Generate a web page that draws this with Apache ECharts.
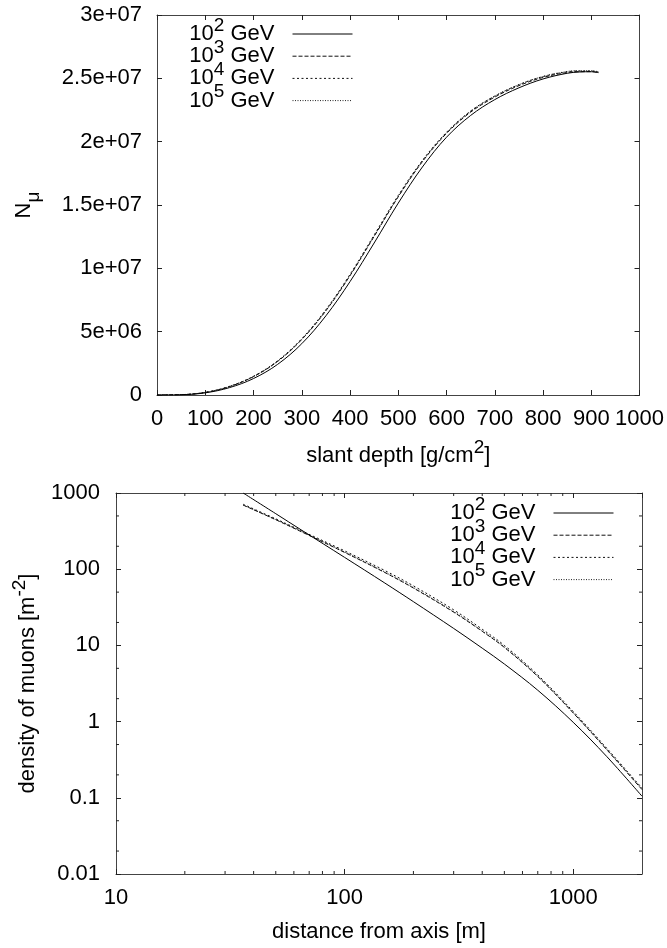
<!DOCTYPE html>
<html>
<head>
<meta charset="utf-8">
<script src="https://cdn.jsdelivr.net/npm/echarts@6/dist/echarts.min.js"></script>
<style>
  html, body { margin: 0; padding: 0; background: #fff; }
  #chart { width: 667px; height: 948px; }
</style>
</head>
<body>
<div id="chart"></div>
<script>
// Primary energies of the simulated showers
const energies = ['10^2 GeV', '10^3 GeV', '10^4 GeV', '10^5 GeV'];

// Longitudinal development: number of muons vs slant depth [g/cm^2]
const depth = [0, 50, 100, 150, 200, 250, 300, 350, 400, 450, 500, 550, 600, 650, 700, 750, 800, 850, 875, 900, 915];
const nMu_e2 = [0, 0.02e6, 0.17e6, 0.58e6, 1.30e6, 2.42e6, 4.05e6, 6.25e6, 8.95e6, 12.0e6, 15.15e6, 18.0e6, 20.35e6, 22.07e6, 23.32e6, 24.25e6, 24.95e6, 25.4e6, 25.5e6, 25.52e6, 25.45e6];
const nMu_e3 = [0, 0.025e6, 0.20e6, 0.66e6, 1.45e6, 2.65e6, 4.38e6, 6.65e6, 9.42e6, 12.52e6, 15.65e6, 18.42e6, 20.65e6, 22.33e6, 23.52e6, 24.42e6, 25.07e6, 25.46e6, 25.53e6, 25.53e6, 25.46e6];
const nMu_e4 = [0, 0.026e6, 0.21e6, 0.68e6, 1.48e6, 2.70e6, 4.45e6, 6.74e6, 9.52e6, 12.63e6, 15.76e6, 18.52e6, 20.74e6, 22.42e6, 23.6e6, 24.5e6, 25.14e6, 25.52e6, 25.58e6, 25.58e6, 25.5e6];
const nMu_e5 = [0, 0.025e6, 0.205e6, 0.67e6, 1.46e6, 2.67e6, 4.40e6, 6.68e6, 9.45e6, 12.55e6, 15.68e6, 18.46e6, 20.7e6, 22.4e6, 23.6e6, 24.5e6, 25.15e6, 25.54e6, 25.6e6, 25.6e6, 25.52e6];
const depthTicks = ['0', '100', '200', '300', '400', '500', '600', '700', '800', '900', '1000'];
const nMuTicks = ['0', '5e+06', '1e+07', '1.5e+07', '2e+07', '2.5e+07', '3e+07'];

// Lateral distribution: muon density [m^-2] vs distance from shower axis [m]
const distance = [36, 50, 65, 100, 150, 200, 300, 400, 500, 700, 1000, 1400, 2000];
const rho_e2 = [1000, 535, 324, 143, 65.8, 37.5, 16.7, 9.2, 5.7, 2.58, 0.98, 0.35, 0.105];
const rho_e3 = [695, 446, 308, 166, 90.4, 56.6, 27.3, 15.3, 9.4, 3.9, 1.3, 0.43, 0.128];
const rho_e4 = [712, 458, 318, 174, 96, 60.5, 29.3, 16.3, 10.0, 4.1, 1.36, 0.45, 0.134];
const rho_e5 = [692, 448, 311, 168, 91.5, 57.4, 27.8, 15.5, 9.55, 3.95, 1.31, 0.435, 0.13];
const distTicks = ['10', '100', '1000'];
const rhoTicks = ['0.01', '0.1', '1', '10', '100', '1000'];
const distMinor = [20, 30, 40, 50, 60, 70, 80, 90, 200, 300, 400, 500, 600, 700, 800, 900];
const rhoMinor = [0.02, 0.05, 0.2, 0.5, 2, 5, 20, 50, 200, 500];

const FONT = 'Liberation Sans, Arial, Helvetica, sans-serif';
const AXIS_COLOR = '#444';
const dashes = ['solid', [4, 2], [2, 2.5], [1, 1.5]];
const lineColors = ['#000', '#111', '#111', '#222'];

// Raised / lowered fragments: a tiny token box pinned to the top or bottom of the line
const supRich = {
  base: { fontSize: 22, lineHeight: 22, color: '#000', fontFamily: FONT },
  sup: { fontSize: 19, height: 5, lineHeight: 5, verticalAlign: 'top', color: '#000', fontFamily: FONT },
  sub: { fontSize: 19, height: 2, lineHeight: 2, verticalAlign: 'bottom', color: '#000', fontFamily: FONT }
};
const nameStyle = { fontSize: 22, color: '#000', lineHeight: 22, fontFamily: FONT, rich: supRich };
const labelBase = { fontSize: 22, color: '#000', fontFamily: FONT };

function pairs(xs, ys) { return xs.map((x, i) => [x, ys[i]]); }
function powLabel(list) {
  return v => {
    const e = Math.round(Math.log10(v));
    return Math.abs(Math.log10(v) - e) < 1e-6 ? (list.find(t => Number(t) === v) || '') : '';
  };
}

function box(extra, mirror) {
  return Object.assign({
    axisLine: { show: true, onZero: false, lineStyle: { color: AXIS_COLOR, width: 1 } },
    axisTick: { show: true, inside: true, length: 5, lineStyle: { color: '#222', width: 1 } },
    splitLine: { show: false },
    axisLabel: mirror ? { show: false } : undefined
  }, extra);
}

const grids = [
  { left: 157, right: 26, top: 15, height: 380 },
  { left: 116, right: 25, top: 493, height: 381 }
];

const xAxes = [
  box({ gridIndex: 0, type: 'value', position: 'bottom', min: 0, max: 1000, interval: 100,
        axisLabel: Object.assign({ margin: 13, formatter: v => depthTicks[Math.round(v / 100)] }, labelBase),
        name: 'slant depth [g/cm{sup|2}]', nameLocation: 'middle', nameGap: 50, nameTextStyle: nameStyle }),
  box({ gridIndex: 0, type: 'value', position: 'top', min: 0, max: 1000, interval: 100 }, true),
  box({ gridIndex: 1, type: 'log', logBase: 10, position: 'bottom', min: 10, max: 2000,
        axisLabel: Object.assign({ margin: 13, showMaxLabel: false, formatter: powLabel(distTicks) }, labelBase),
        name: 'distance from axis [m]', nameLocation: 'middle', nameGap: 47, nameTextStyle: nameStyle }),
  box({ gridIndex: 1, type: 'log', logBase: 10, position: 'top', min: 10, max: 2000 }, true)
];

const yAxes = [
  box({ gridIndex: 0, type: 'value', position: 'left', min: 0, max: 3e7, interval: 5e6,
        axisLabel: Object.assign({ margin: 15, formatter: v => nMuTicks[Math.round(v / 5e6)] }, labelBase),
        name: 'N{sub|μ}', nameLocation: 'middle', nameRotate: 90, nameGap: 122, nameTextStyle: nameStyle }),
  box({ gridIndex: 0, type: 'value', position: 'right', min: 0, max: 3e7, interval: 5e6 }, true),
  box({ gridIndex: 1, type: 'log', logBase: 10, position: 'left', min: 0.01, max: 1000,
        axisLabel: Object.assign({ margin: 16, formatter: powLabel(rhoTicks) }, labelBase),
        name: 'density of muons [m{sup|-2}]', nameLocation: 'middle', nameRotate: 90, nameGap: 77, nameTextStyle: nameStyle }),
  box({ gridIndex: 1, type: 'log', logBase: 10, position: 'right', min: 0.01, max: 1000 }, true)
];

function curve(name, i, data, xi, yi) {
  return {
    type: 'line', name, data, xAxisIndex: xi, yAxisIndex: yi,
    showSymbol: false, symbol: 'none', smooth: 0.35, clip: true,
    lineStyle: { color: lineColors[i], width: 1, type: dashes[i] },
    itemStyle: { color: lineColors[i], opacity: 0 },
    z: 5 - i
  };
}

const profiles = [nMu_e2, nMu_e3, nMu_e4, nMu_e5];
const lateral = [rho_e2, rho_e3, rho_e4, rho_e5];

// Minor ticks of the log-log panel (bottom/top and left/right edges)
const minorData = distMinor.map(v => [v, 0.01, 0]).concat(rhoMinor.map(v => [10, v, 1]));
const minorTicks = {
  type: 'custom', name: 'minor ticks', xAxisIndex: 2, yAxisIndex: 2, silent: true, clip: false,
  data: minorData,
  renderItem(params, api) {
    const st = { stroke: '#222', lineWidth: 1 };
    const L = 3;
    if (api.value(2) === 0) {
      const v = api.value(0);
      const b = api.coord([v, 0.01]);
      const t = api.coord([v, 1000]);
      return { type: 'group', children: [
        { type: 'line', shape: { x1: b[0], y1: b[1], x2: b[0], y2: b[1] - L }, style: st },
        { type: 'line', shape: { x1: t[0], y1: t[1], x2: t[0], y2: t[1] + L }, style: st }
      ] };
    }
    const v = api.value(1);
    const l = api.coord([10, v]);
    const r = api.coord([2000, v]);
    return { type: 'group', children: [
      { type: 'line', shape: { x1: l[0], y1: l[1], x2: l[0] + L, y2: l[1] }, style: st },
      { type: 'line', shape: { x1: r[0], y1: r[1], x2: r[0] - L, y2: r[1] }, style: st }
    ] };
  }
};

// The raised exponent enlarges each item's box, so the gap is negative to keep rows tight
const legendBase = {
  data: energies, orient: 'vertical', align: 'right', padding: 0,
  itemWidth: 60, itemHeight: 22, itemGap: -6.8, selectedMode: false,
  itemStyle: { opacity: 0 },
  lineStyle: { width: 1 },
  formatter: n => '{base|' + n.replace(/\^(\d+)/, '}{sup|$1}{base|') + '}',
  textStyle: { fontSize: 22, color: '#000', lineHeight: 22, fontFamily: FONT, padding: [0, 13, 0, 0], rich: supRich }
};

const option = {
  animation: false,
  backgroundColor: '#fff',
  textStyle: { fontFamily: FONT },
  grid: grids,
  xAxis: xAxes,
  yAxis: yAxes,
  legend: [
    Object.assign({ top: 16, right: 314 }, legendBase),
    Object.assign({ top: 495, right: 53 }, legendBase)
  ],
  series: energies.map((n, i) => curve(n, i, pairs(depth, profiles[i]), 0, 0))
    .concat(energies.map((n, i) => curve(n, i, pairs(distance, lateral[i]), 2, 2)))
    .concat([minorTicks])
};

const chart = echarts.init(document.getElementById('chart'), null, { renderer: 'canvas' });
chart.setOption(option);
</script>
</body>
</html>
